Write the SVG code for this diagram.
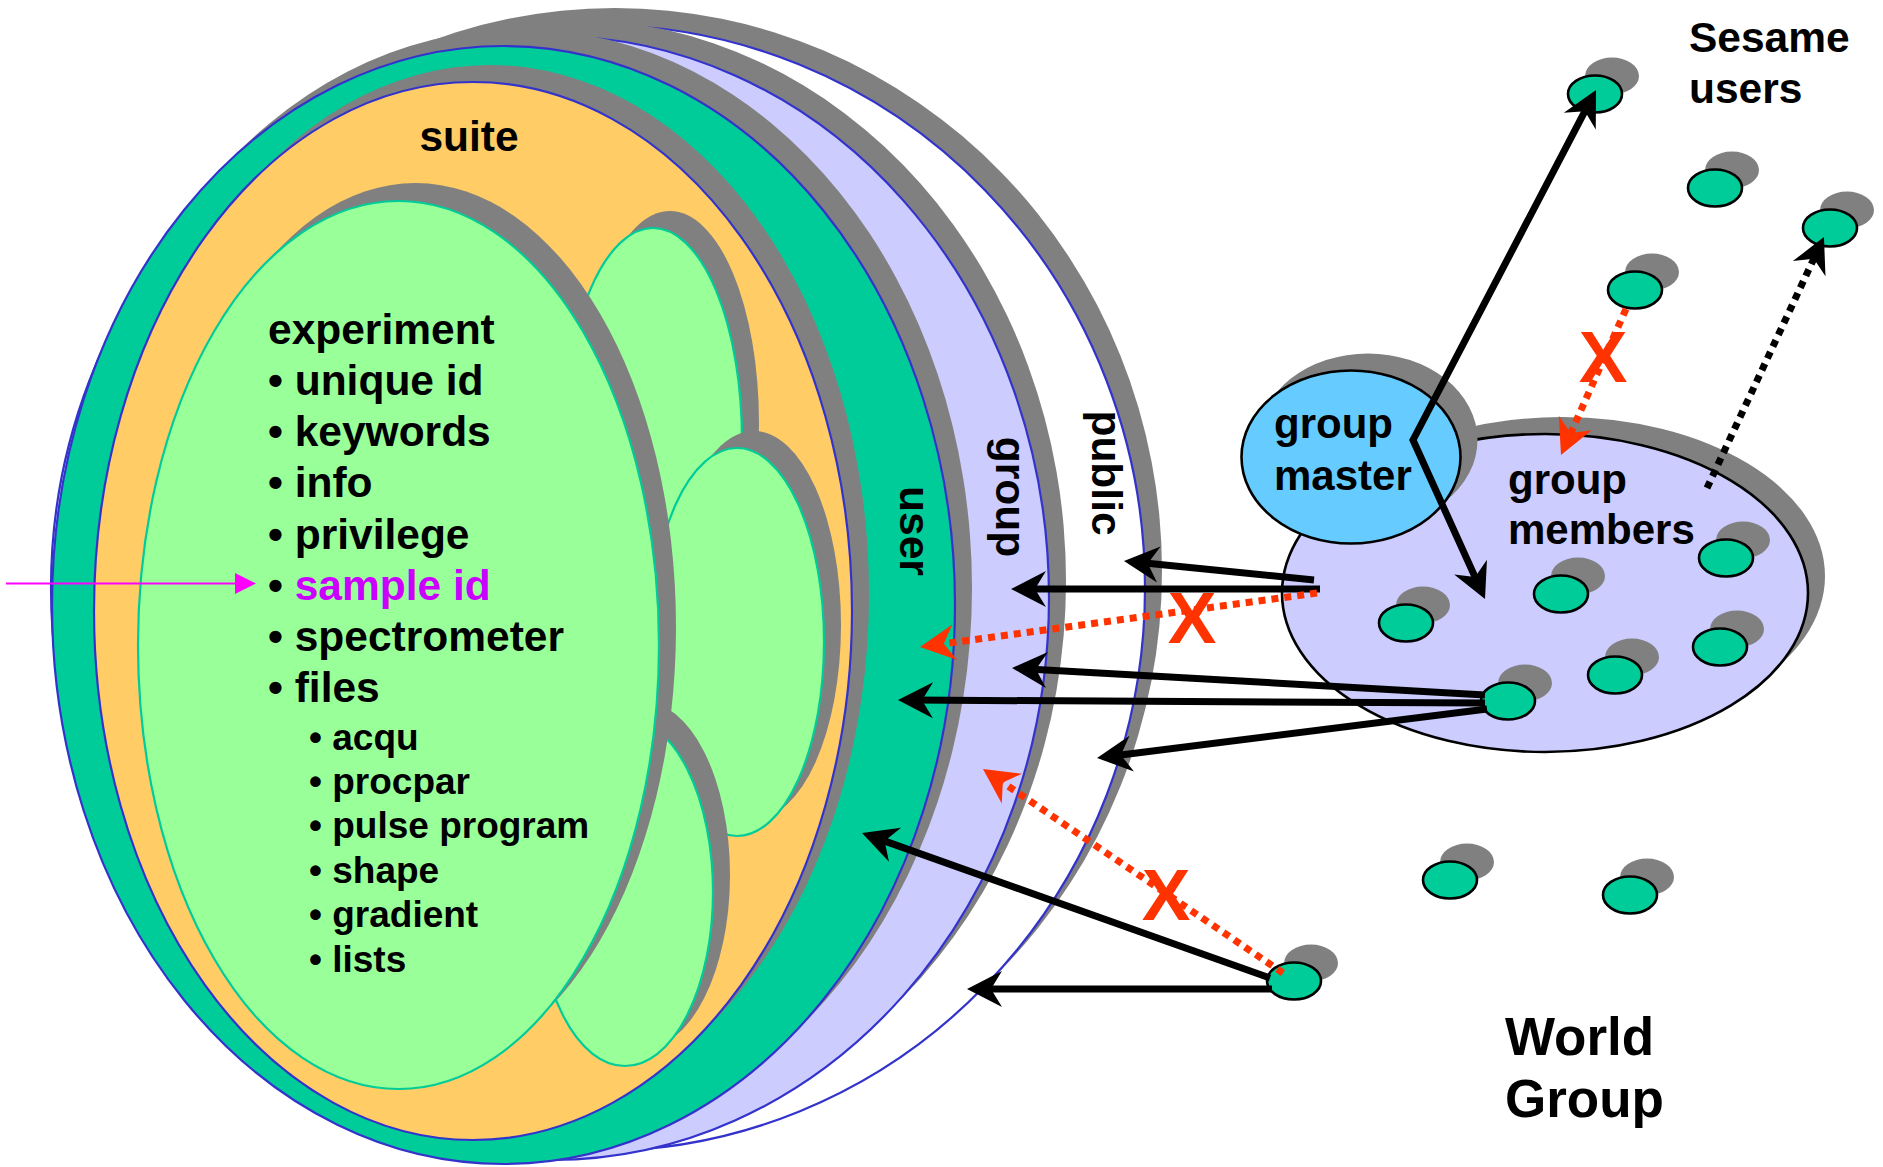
<svg xmlns="http://www.w3.org/2000/svg" width="1883" height="1167" viewBox="0 0 1883 1167">
<style>
.sh{fill:#808080;stroke:none}
.ring{stroke:#3333CC;stroke-width:2.2}
.expe{fill:#99FF99;stroke:#00CC99;stroke-width:2.2}
.dot{fill:#00CC99;stroke:#000;stroke-width:2.6}
.t{font-family:"Liberation Sans",Arial,Helvetica,sans-serif;font-weight:bold;fill:#000}
.big{font-size:42.5px}
.sub{font-size:37px}
.lbl{font-size:42px}
.world{font-size:53px}
.x{font-family:"Liberation Sans",Arial,sans-serif;font-weight:bold;font-size:73px;fill:#FF3300;text-anchor:middle}
.arr{fill:none;stroke:#000;stroke-width:7}
.red{fill:none;stroke:#FF3300;stroke-width:7;stroke-dasharray:7 6}
.bdot{fill:none;stroke:#000;stroke-width:7;stroke-dasharray:7 6}
</style>
<defs>
<marker id="ah" markerUnits="userSpaceOnUse" orient="auto-start-reverse" markerWidth="40" markerHeight="40" refX="0" refY="0" overflow="visible">
<path d="M16,0 L-19,-18 L-8,0 L-19,18 Z" fill="#000"/>
</marker>
<marker id="ahr" markerUnits="userSpaceOnUse" orient="auto" markerWidth="40" markerHeight="40" refX="0" refY="0" overflow="visible">
<path d="M16,0 L-19,-18 L-8,0 L-19,18 Z" fill="#FF3300"/>
</marker>
</defs>
<rect x="0" y="0" width="1883" height="1167" fill="#fff"/>

<g id="public-ring">
<ellipse class="sh" cx="615" cy="571" rx="547" ry="563"/>
<ellipse class="ring" fill="#FFFFFF" cx="598" cy="588" rx="547" ry="563"/>
<text class="t big" transform="translate(1092,473) rotate(90)" text-anchor="middle">public</text>
</g>
<g id="group-ring">
<ellipse class="sh" cx="569" cy="581" rx="497" ry="562"/>
<ellipse class="ring" fill="#CCCCFF" cx="552" cy="598" rx="497" ry="562"/>
<text class="t big" transform="translate(996,497) rotate(90)" text-anchor="middle">group</text>
</g>
<g id="user-ring">
<ellipse class="sh" cx="520.5" cy="588" rx="451.5" ry="559"/>
<ellipse class="ring" fill="#00CC99" cx="503.5" cy="605" rx="451.5" ry="559"/>
<text class="t big" transform="translate(900,531) rotate(90)" text-anchor="middle">user</text>
</g>
<g id="suite">
<ellipse class="sh" cx="490" cy="594" rx="379" ry="529"/>
<ellipse class="ring" fill="#FFCC66" cx="473" cy="611" rx="379" ry="529"/>
<text class="t big" x="469" y="151" text-anchor="middle">suite</text>
</g>
<g id="experiment-2">
<ellipse class="sh" cx="670" cy="423" rx="89" ry="212"/>
<ellipse class="expe" cx="653" cy="440" rx="89" ry="212"/>
</g>
<g id="experiment-3">
<ellipse class="sh" cx="754" cy="625" rx="87" ry="194"/>
<ellipse class="expe" cx="737" cy="642" rx="87" ry="194"/>
</g>
<g id="experiment-4">
<ellipse class="sh" cx="642" cy="875" rx="88" ry="174"/>
<ellipse class="expe" cx="625" cy="892" rx="88" ry="174"/>
</g>
<g id="experiment">
<ellipse class="sh" cx="415.5" cy="627" rx="260.5" ry="444"/>
<ellipse class="expe" cx="398.5" cy="645" rx="260.5" ry="444"/>
<text class="t big" x="268" y="344">experiment</text>
<text class="t big" x="268" y="395">• unique id</text>
<text class="t big" x="268" y="446">• keywords</text>
<text class="t big" x="268" y="497">• info</text>
<text class="t big" x="268" y="549">• privilege</text>
<text class="t big" x="268" y="600">• <tspan fill="#CC00FF">sample id</tspan></text>
<text class="t big" x="268" y="651">• spectrometer</text>
<text class="t big" x="268" y="702">• files</text>
<text class="t sub" x="309" y="750">• acqu</text>
<text class="t sub" x="309" y="794">• procpar</text>
<text class="t sub" x="309" y="838">• pulse program</text>
<text class="t sub" x="309" y="883">• shape</text>
<text class="t sub" x="309" y="927">• gradient</text>
<text class="t sub" x="309" y="972">• lists</text>
</g>

<g id="group-members">
<ellipse class="sh" cx="1562" cy="576" rx="263" ry="159"/>
<ellipse fill="#CCCCFF" stroke="#000" stroke-width="2.6" cx="1545" cy="593" rx="263" ry="159"/>
<text class="t lbl" x="1508" y="494">group</text>
<text class="t lbl" x="1508" y="544">members</text>
</g>
<g id="group-master">
<ellipse class="sh" cx="1368" cy="440" rx="109.5" ry="86.5"/>
<ellipse fill="#66CCFF" stroke="#000" stroke-width="2.6" cx="1351" cy="457" rx="109.5" ry="86.5"/>
<text class="t lbl" x="1274" y="438">group</text>
<text class="t lbl" x="1274" y="490">master</text>
</g>

<g id="users">
<g id="u1"><ellipse class="sh" cx="1612" cy="76" rx="27" ry="18.5"/><ellipse class="dot" cx="1595" cy="94" rx="27" ry="18.5"/></g>
<g id="u2"><ellipse class="sh" cx="1732" cy="170" rx="27" ry="18.5"/><ellipse class="dot" cx="1715" cy="188" rx="27" ry="18.5"/></g>
<g id="u3"><ellipse class="sh" cx="1847" cy="210" rx="27" ry="18.5"/><ellipse class="dot" cx="1830" cy="228" rx="27" ry="18.5"/></g>
<g id="u4"><ellipse class="sh" cx="1652" cy="272" rx="27" ry="18.5"/><ellipse class="dot" cx="1635" cy="290" rx="27" ry="18.5"/></g>
<g id="m1"><ellipse class="sh" cx="1423" cy="605" rx="27" ry="18.5"/><ellipse class="dot" cx="1406" cy="623" rx="27" ry="18.5"/></g>
<g id="m2"><ellipse class="sh" cx="1578" cy="576" rx="27" ry="18.5"/><ellipse class="dot" cx="1561" cy="594" rx="27" ry="18.5"/></g>
<g id="m3"><ellipse class="sh" cx="1743" cy="540" rx="27" ry="18.5"/><ellipse class="dot" cx="1726" cy="558" rx="27" ry="18.5"/></g>
<g id="m4"><ellipse class="sh" cx="1737" cy="629" rx="27" ry="18.5"/><ellipse class="dot" cx="1720" cy="647" rx="27" ry="18.5"/></g>
<g id="m5"><ellipse class="sh" cx="1632" cy="657" rx="27" ry="18.5"/><ellipse class="dot" cx="1615" cy="675" rx="27" ry="18.5"/></g>
<g id="m6"><ellipse class="sh" cx="1525" cy="683" rx="27" ry="18.5"/><ellipse class="dot" cx="1508" cy="701" rx="27" ry="18.5"/></g>
<g id="w1"><ellipse class="sh" cx="1467" cy="862" rx="27" ry="18.5"/><ellipse class="dot" cx="1450" cy="880" rx="27" ry="18.5"/></g>
<g id="w2"><ellipse class="sh" cx="1647" cy="877" rx="27" ry="18.5"/><ellipse class="dot" cx="1630" cy="895" rx="27" ry="18.5"/></g>
<g id="w3"><ellipse class="sh" cx="1311" cy="963" rx="27" ry="18.5"/><ellipse class="dot" cx="1294" cy="981" rx="27" ry="18.5"/></g>
</g>

<g id="labels">
<text class="t big" x="1689" y="52">Sesame</text>
<text class="t big" x="1689" y="103">users</text>
<text class="t world" x="1505" y="1055">World</text>
<text class="t world" x="1505" y="1117">Group</text>
</g>

<g id="connectors">
<path class="arr" stroke-linejoin="miter" d="M1588.6,104.2 L1413,440 L1478.4,584.4" marker-start="url(#ah)" marker-end="url(#ah)"/>
<line class="arr" x1="1314" y1="580" x2="1139.9" y2="562.6" marker-end="url(#ah)"/>
<line class="arr" x1="1320" y1="589" x2="1027" y2="589" marker-end="url(#ah)"/>
<line class="red" x1="1317" y1="593" x2="935.9" y2="644.8" marker-end="url(#ahr)"/>
<line class="arr" x1="1485" y1="695" x2="1028" y2="668.9" marker-end="url(#ah)"/>
<line class="arr" x1="1485" y1="703" x2="914" y2="700.1" marker-end="url(#ah)"/>
<line class="arr" x1="1487" y1="709" x2="1112.9" y2="756" marker-end="url(#ah)"/>
<line class="arr" x1="1270" y1="978" x2="877.1" y2="838.4" marker-end="url(#ah)"/>
<line class="arr" x1="1272" y1="989" x2="983" y2="989" marker-end="url(#ah)"/>
<line class="red" x1="1283" y1="973" x2="996.2" y2="778" marker-end="url(#ahr)"/>
<line class="red" x1="1626" y1="309" x2="1567.5" y2="440.4" marker-end="url(#ahr)"/>
<line class="bdot" x1="1707" y1="488" x2="1817.2" y2="251.5" marker-end="url(#ah)"/>
<line x1="6" y1="583.5" x2="237" y2="583.5" stroke="#FF00FF" stroke-width="2"/>
<polygon points="235,573 256,583.5 235,594" fill="#FF00FF"/>
<text class="x" x="1192" y="643">X</text>
<text class="x" x="1166" y="920">X</text>
<text class="x" x="1603" y="382">X</text>
</g>
</svg>
